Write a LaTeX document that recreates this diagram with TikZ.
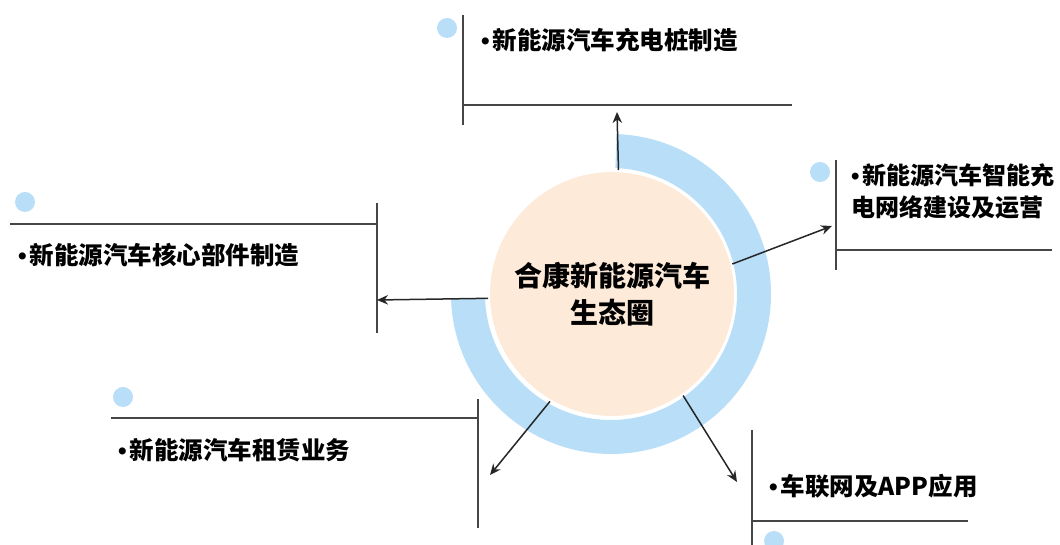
\documentclass[tikz,border=0pt]{standalone}
\usepackage{fontspec}
\newfontfamily\cjk{Noto Sans CJK SC}
\newfontfamily\lat{Liberation Sans}
\usetikzlibrary{arrows.meta}
\definecolor{ringblue}{RGB}{184,222,248}
\definecolor{peach}{RGB}{253,234,216}
\definecolor{linegray}{RGB}{70,70,70}
\newcommand{\bul}{{\lat •}\hspace{3pt}}
\begin{document}
\begin{tikzpicture}[x=1pt,y=1pt,
  boxline/.style={draw=linegray,line width=1.6pt},
  arr/.style={draw=black!85,line width=1.5pt,-{Stealth[length=11pt,width=9.5pt]}},
  lbl/.style={font=\cjk\bfseries\fontsize{24.5}{32}\selectfont,anchor=west,inner sep=0pt,align=left},
  dotc/.style={circle,fill=ringblue,minimum size=20pt,inner sep=0pt}]
\useasboundingbox (0,0) rectangle (1060,545);
\clip (0,0) rectangle (1060,545);
% ring
\fill[ringblue] (611,251) ++(88:160) arc[start angle=88,end angle=-178,radius=160pt]
  -- ++(2:34) arc[start angle=-178,end angle=88,radius=126pt] -- cycle;
% center
\node[circle,fill=peach,draw=white,line width=2pt,minimum size=246pt,inner sep=0pt,
  font=\cjk\bfseries\fontsize{28}{37}\selectfont,align=center] (c) at (612,251)
  {合康新能源汽车\\生态圈};
% top
\draw[boxline] (463,530) -- (463,420);
\draw[boxline] (463,440) -- (792,440);
\node[dotc] (d1) at (447,517) {};
\node[lbl] (t1) at (481,505) {\bul 新能源汽车充电桩制造};
\coordinate (e1) at (617,433);
\draw[arr] (c.87) -- (e1);
% right
\draw[boxline] (836,385) -- (836,275);
\draw[boxline] (836,295) -- (1052,295);
\node[dotc] (d2) at (820,373) {};
\node[lbl,font=\cjk\bfseries\fontsize{24}{32}\selectfont] (t2) at (851,354) {\bul 新能源汽车智能充\\电网络建设及运营};
\coordinate (e2) at (832,319);
\draw[arr] (c.14.6) -- (e2);
% left
\draw[boxline] (377,342) -- (377,212);
\draw[boxline] (10,321) -- (377,321);
\node[dotc] (d3) at (25,343) {};
\node[lbl] (t3) at (18,290) {\bul 新能源汽车核心部件制造};
\coordinate (e3) at (377,245);
\draw[arr] (c.182.8) -- (e3);
% bottom-left
\draw[boxline] (478,146) -- (478,17);
\draw[boxline] (111,127) -- (478,127);
\node[dotc] (d4) at (123,148) {};
\node[lbl] (t4) at (118,95) {\bul 新能源汽车租赁业务};
\coordinate (e4) at (490,70);
\draw[arr] (c.240.4) -- (e4);
% bottom-right
\draw[boxline] (752,115) -- (752,-2);
\draw[boxline] (752,24) -- (968,24);
\node[dotc] (d5) at (774,4) {};
\node[lbl] (t5) at (769,59) {\bul 车联网及APP应用};
\coordinate (e5) at (737,63);
\draw[arr] (c.305.4) -- (e5);
\end{tikzpicture}
\end{document}
